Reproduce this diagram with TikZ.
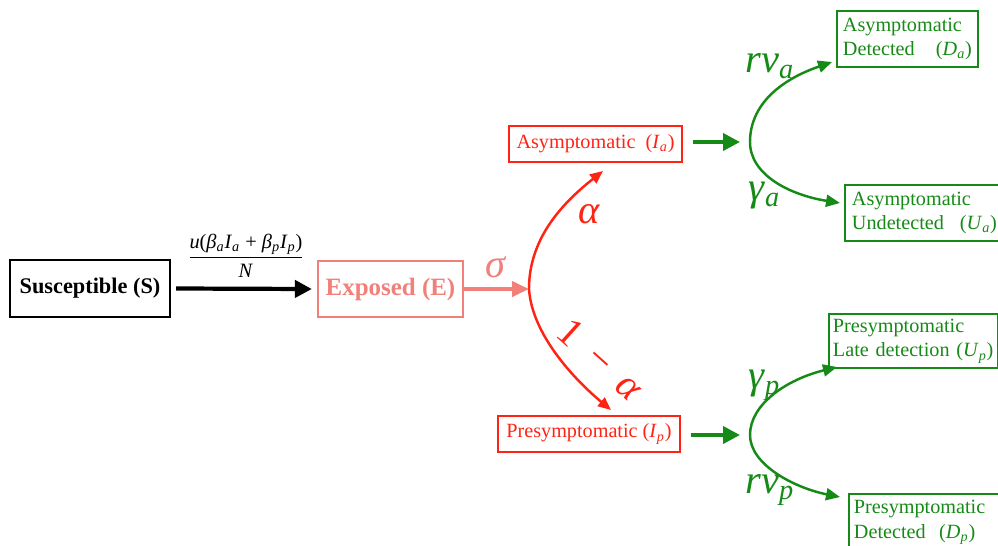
\documentclass[tikz,border=0pt]{standalone}
\usepackage{fontspec}
\setmainfont{Liberation Serif}
\usetikzlibrary{arrows.meta}
\definecolor{cred}{RGB}{255,35,20}
\definecolor{cpink}{RGB}{242,128,122}
\definecolor{cgreen}{RGB}{22,138,22}
\newcommand\vi[2]{\textit{#1}\textsubscript{\textit{#2}}}
\tikzset{
  box/.style={draw, line width=1.1pt, inner sep=0pt, font=\fontsize{11.5}{14}\selectfont},
  sbox/.style={box, draw=black, line width=1.3pt, minimum width=3.2cm, minimum height=1.14cm, font=\fontsize{12.7}{15}\selectfont\bfseries},
  ebox/.style={box, draw=cpink, text=cpink, line width=1.3pt, minimum width=2.9cm, minimum height=1.12cm, font=\fontsize{14.2}{17}\selectfont\bfseries},
  rbox/.style={box, draw=cred, text=cred, minimum height=0.72cm},
  gbox/.style={box, draw=cgreen, text=cgreen, anchor=north west, align=left},
  lbl/.style={inner sep=0pt, font=\fontsize{23}{23}\selectfont},
  bigarrow/.style={line width=2.4pt, -{Triangle[length=0.34cm,width=0.34cm]}},
  pinkarrow/.style={cpink, line width=2.2pt, -{Triangle[length=0.34cm,width=0.3cm]}},
  garrow/.style={cgreen, line width=2.2pt, -{Triangle[length=0.34cm,width=0.34cm]}},
  rcurve/.style={cred, line width=1.4pt, -{Triangle[length=0.26cm,width=0.22cm]}},
  gcurve/.style={cgreen, line width=1.4pt, -{Triangle[length=0.28cm,width=0.24cm]}},
}
\begin{document}
\begin{tikzpicture}[x=0.02cm,y=-0.02cm]
\useasboundingbox (0,0) rectangle (998,545);
\clip (0,0) rectangle (998,545);

% boxes
\node[sbox] (S) at (90,288.5) {Susceptible (S)};
\node[ebox] (E) at (390.5,289) {Exposed (E)};
\node[rbox, minimum width=3.46cm] (Ia) at (595.5,144) {Asymptomatic\ \ (\vi{I}{a})};
\node[rbox, minimum width=3.64cm] (Ip) at (589,434) {Presymptomatic (\vi{I}{p})};
\node[gbox, inner xsep=0.12cm, text width=2.58cm, minimum height=1.12cm] (Da) at (836,10)
  {Asymptomatic\\Detected\hfill(\vi{D}{a})};
\node[gbox, inner xsep=0.14cm, text width=2.9cm, minimum height=1.12cm] (Ua) at (844,184)
  {Asymptomatic\\Undetected\hfill(\vi{U}{a})};
\node[gbox, inner xsep=0.08cm, text width=3.22cm, minimum height=1.08cm] (Up) at (828,313)
  {Presymptomatic\\Late detection (\vi{U}{p})};
\node[gbox, inner xsep=0.1cm, inner ysep=0.13cm, text width=3cm] (Dp) at (848,493)
  {Presymptomatic\\Detected\ \ (\vi{D}{p})};

% fraction label
\node[inner sep=0pt, font=\fontsize{11.6}{14}\selectfont] (frac) at (246,256)
  {$\displaystyle\frac{\mbox{\textit{u}(\vi{β}{a}\vi{I}{a} + \vi{β}{p}\vi{I}{p})}}{\mbox{\textit{N}}}$};

% junctions and tips
\coordinate (jr) at (529,289);
\coordinate (ja) at (750,142);
\coordinate (jp) at (750,435);
\coordinate (ta) at (603,171);
\coordinate (tp) at (611,410);
\coordinate (tDa) at (832,62);
\coordinate (tUa) at (840,203);
\coordinate (tUp) at (837,367);
\coordinate (tDp) at (840,497);

% straight arrows
\draw[bigarrow] ([xshift=0.1cm]S.east) -- ([xshift=-0.1cm]E.west);
\draw[pinkarrow] (E.east) -- (jr);
\draw[garrow, shorten <=0.2cm, shorten >=0.2cm] (Ia.east |- ja) -- (ja);
\draw[garrow, shorten <=0.2cm, shorten >=0.2cm] (Ip.east |- jp) -- (jp);

% red split
\draw[rcurve] (jr) .. controls (529,240) and (560,205) .. (ta);
\draw[rcurve] (jr) .. controls (532,335) and (575,380) .. (tp);

% green splits
\draw[gcurve] (ja) .. controls (750,105) and (780,80) .. (tDa);
\draw[gcurve] (ja) .. controls (750,175) and (790,195) .. (tUa);
\draw[gcurve] (jp) .. controls (750,405) and (785,380) .. (tUp);
\draw[gcurve] (jp) .. controls (750,465) and (795,488) .. (tDp);

% rate labels
\node[lbl, text=cpink, anchor=base] (sig) at (496,277) {\textit{σ}};
\node[lbl, text=cred, anchor=base] (alp) at (589,223) {\textit{α}};
\node[lbl, text=cred, rotate=-42] (oma) at (601,360) {1\hspace{0.45em}−\hspace{0.45em}\textit{α}};
\node[lbl, text=cgreen, anchor=base west] (rna) at (745,72) {\textit{rν}\textsubscript{\textit{a}}};
\node[lbl, text=cgreen, anchor=base west] (ga) at (748,200) {\textit{γ}\textsubscript{\textit{a}}};
\node[lbl, text=cgreen, anchor=base west] (gp) at (748,388) {\textit{γ}\textsubscript{\textit{p}}};
\node[lbl, text=cgreen, anchor=base west] (rnp) at (745,493) {\textit{rν}\textsubscript{\textit{p}}};
\end{tikzpicture}
\end{document}
